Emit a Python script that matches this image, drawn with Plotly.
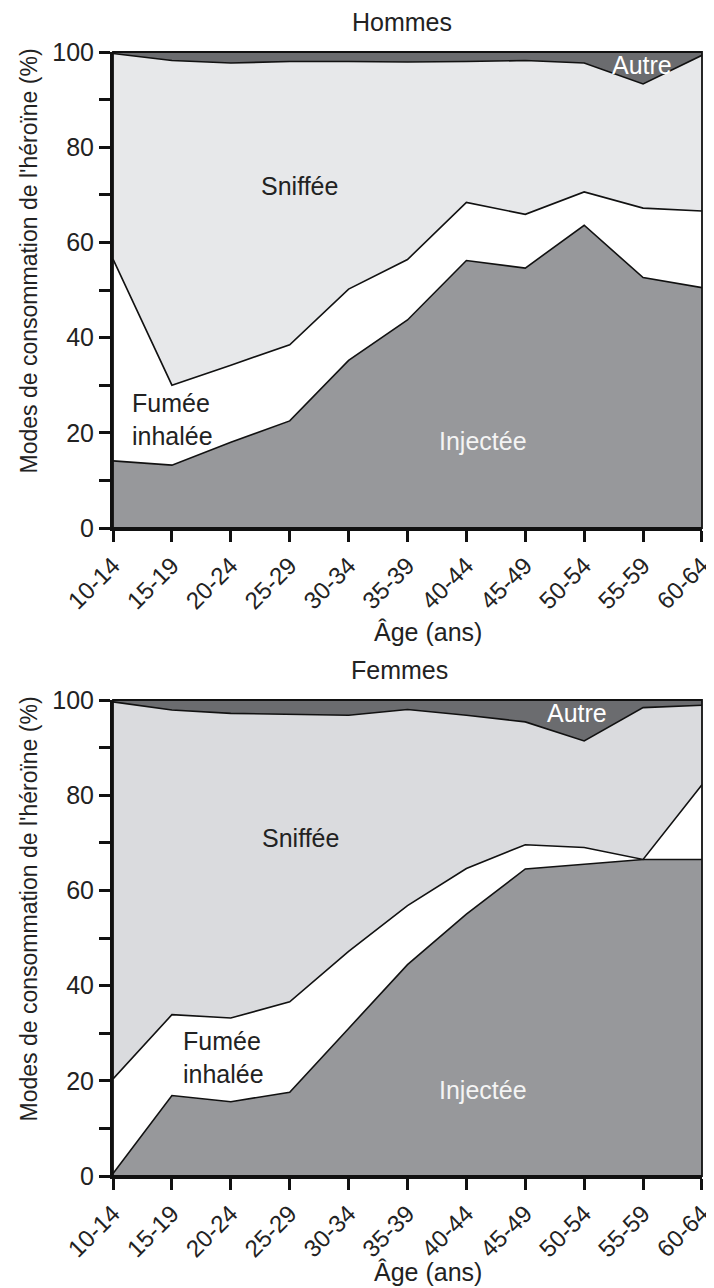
import plotly.graph_objects as go

ages = ["10-14", "15-19", "20-24", "25-29", "30-34", "35-39", "40-44", "45-49", "50-54", "55-59", "60-64"]
idx = list(range(len(ages)))

# Hommes (% of heroin users by mode)
h_injectee = [14.1, 13.2, 18.0, 22.5, 35.2, 43.7, 56.2, 54.6, 63.6, 52.6, 50.5]
h_fumee = [42.4, 16.8, 16.2, 16.0, 15.0, 12.7, 12.2, 11.3, 7.0, 14.6, 16.1]
h_sniffee = [43.2, 68.2, 63.5, 59.5, 47.8, 41.5, 29.6, 32.3, 27.1, 26.1, 32.7]
h_autre = [0.3, 1.8, 2.3, 2.0, 2.0, 2.1, 2.0, 1.8, 2.3, 6.7, 0.7]

# Femmes
f_injectee = [0.5, 16.9, 15.6, 17.6, 31.0, 44.4, 55.0, 64.5, 65.5, 66.5, 66.5]
f_fumee = [19.9, 17.0, 17.6, 19.0, 16.2, 12.4, 9.6, 5.1, 3.5, 0.0, 15.7]
f_sniffee = [79.2, 64.0, 64.0, 60.4, 49.6, 41.2, 32.2, 25.8, 22.4, 31.9, 16.7]
f_autre = [0.4, 2.1, 2.8, 3.0, 3.2, 2.0, 3.2, 4.6, 8.6, 1.6, 1.1]

y_ticks = list(range(0, 101, 10))
y_ticktext = [str(v) if v % 20 == 0 else "" for v in y_ticks]

FONT = "Liberation Sans, Arial, Helvetica, sans-serif"
FS = 25
C_INJ = "#97989b"
C_FUM = "#ffffff"
C_SNIF_H = "#e7e8ea"
C_SNIF_F = "#dadbde"
C_AUT = "#6b6c6f"

fig = go.Figure()


def add_stack(values_list, colors, group, xa, ya):
    for vals, col in zip(values_list, colors):
        fig.add_trace(go.Scatter(
            x=idx, y=vals, mode="lines", stackgroup=group,
            line=dict(color="#111111", width=1.6),
            fillcolor=col, xaxis=xa, yaxis=ya, showlegend=False,
            hoverinfo="skip",
        ))


add_stack([h_injectee, h_fumee, h_sniffee, h_autre],
          [C_INJ, C_FUM, C_SNIF_H, C_AUT], "h", "x", "y")
add_stack([f_injectee, f_fumee, f_sniffee, f_autre],
          [C_INJ, C_FUM, C_SNIF_F, C_AUT], "f", "x2", "y2")

OFF = 8  # page body margin
W, H = 698, 1280
L = 113 - OFF
R = W - (702 - OFF)
PW = W - L - R


def px_x(p):
    return (p - OFF - L) / PW


def px_y(p):
    return 1 - (p - OFF) / H


axis_common = dict(
    showline=True, linecolor="#111111", linewidth=3,
    ticks="outside", ticklen=11, tickwidth=2.5, tickcolor="#111111",
    showgrid=False, zeroline=False, automargin=False,
)
yfont = dict(family=FONT, size=FS, color="#222222")
xfont = dict(family=FONT, size=24, color="#222222")
XR = [-0.0005, 10.0005]

fig.update_layout(
    width=W, height=H,
    margin=dict(l=L, r=R, t=0, b=0, autoexpand=False),
    paper_bgcolor="white", plot_bgcolor="white",
    font=dict(family=FONT, size=FS, color="#222222"),
    xaxis=dict(domain=[0, 1], anchor="y", range=XR, tickvals=idx, ticktext=ages,
               tickangle=-45, ticklabeloverflow="allow", tickfont=xfont, **axis_common),
    yaxis=dict(domain=[px_y(528), px_y(52)], anchor="x", range=[0, 100],
               tickvals=y_ticks, ticktext=y_ticktext, tickfont=yfont, **axis_common),
    xaxis2=dict(domain=[0, 1], anchor="y2", range=XR, tickvals=idx, ticktext=ages,
                tickangle=-45, ticklabeloverflow="allow", tickfont=xfont, **axis_common),
    yaxis2=dict(domain=[px_y(1176), px_y(700)], anchor="x2", range=[0, 100],
                tickvals=y_ticks, ticktext=y_ticktext, tickfont=yfont, **axis_common),
)

# thin frame on top/right
for xr, yr in [("x", "y"), ("x2", "y2")]:
    fig.add_shape(type="rect", xref=f"{xr} domain", yref=f"{yr} domain",
                  x0=0, x1=1, y0=0, y1=1, line=dict(color="#111111", width=1.8),
                  fillcolor="rgba(0,0,0,0)", layer="above")

ann = []
# titles
ann.append(dict(text="Hommes", x=px_x(402), y=px_y(22), xref="paper", yref="paper"))
ann.append(dict(text="Âge (ans)", x=px_x(428), y=px_y(632), xref="paper", yref="paper"))
ann.append(dict(text="Femmes", x=px_x(399), y=px_y(670), xref="paper", yref="paper"))
ann.append(dict(text="Âge (ans)", x=px_x(428), y=px_y(1272), xref="paper", yref="paper"))
for yr in ["y domain", "y2 domain"]:
    ann.append(dict(text="Modes de consommation de l'héroïne (%)", x=px_x(29), y=0.56,
                    xref="paper", yref=yr, textangle=-90, font=dict(size=23)))

# in-chart labels (top)
ann.append(dict(text="Sniffée", x=3.17, y=71.8, xref="x", yref="y"))
ann.append(dict(text="Injectée", x=6.28, y=18.3, xref="x", yref="y", font=dict(color="#f4f4f4")))
ann.append(dict(text="Fumée<br>inhalée", x=0.28, y=22.9, xref="x", yref="y", xanchor="left", align="left"))
ann.append(dict(text="Autre", x=8.98, y=97.3, xref="x", yref="y", font=dict(color="#ffffff")))
# in-chart labels (bottom)
ann.append(dict(text="Sniffée", x=3.19, y=71.1, xref="x2", yref="y2"))
ann.append(dict(text="Injectée", x=6.28, y=18.0, xref="x2", yref="y2", font=dict(color="#f4f4f4")))
ann.append(dict(text="Fumée<br>inhalée", x=1.15, y=24.8, xref="x2", yref="y2", xanchor="left", align="left"))
ann.append(dict(text="Autre", x=7.88, y=97.3, xref="x2", yref="y2", font=dict(color="#ffffff")))

for a in ann:
    a.setdefault("showarrow", False)
    a.setdefault("xanchor", "center")
    a.setdefault("yanchor", "middle")
    f = dict(family=FONT, size=FS, color="#222222")
    f.update(a.get("font", {}))
    a["font"] = f
    fig.add_annotation(**a)

fig.write_html("out.html")
